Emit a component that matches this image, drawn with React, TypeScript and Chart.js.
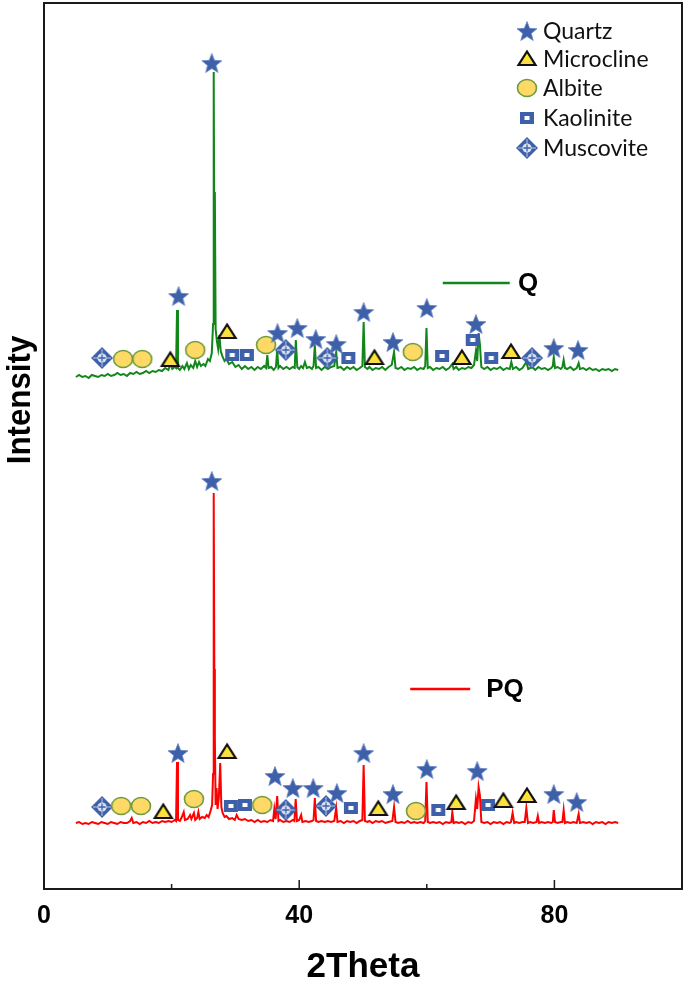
import React, { useEffect, useRef } from 'react';
import { Chart, registerables } from 'chart.js';

Chart.register(...registerables);

// ---------- data ----------
const xTickLabels = ['0', '40', '80'];
const xTitle = '2Theta';
const yTitle = 'Intensity';
const sampleNames = ['Q', 'PQ'];
const sampleColors = ['#12861A', '#FF0000'];
const mineralNames = ['Quartz', 'Microcline', 'Albite', 'Kaolinite', 'Muscovite'];

// diffraction pattern of Q (2theta, intensity, offset stacked)
const qPattern: [number, number][] = [
  [5,512],[5.5,514],[6,512],[6.5,513],[7,511],[7.5,514],[8,513],[8.5,512],[9,514],[9.5,513],[10,515],[10.5,513],[11,514],[11.5,516],[12,514],[12.5,515],[13,513],[13.5,516],[14,515],[14.5,517],[15,515],[15.5,516],[16,518],[16.5,516],[17,518],[17.5,517],[18,519],[18.5,518],[19,521],[19.5,519],[19.8,525],[20.1,520],[20.5,522],[20.7,521],[20.85,579],[21.0,521],[21.3,519],[21.7,523],[22.0,520],[22.4,526],[22.7,520],[23.0,524],[23.4,521],[23.7,528],[24.0,522],[24.3,527],[24.6,523],[25.0,525],[25.3,523],[25.7,530],[26.0,528],[26.3,536],[26.5,565],[26.6,817],[26.7,640],[26.78,697],[26.9,560],[27.1,548],[27.3,540],[27.5,554],[27.7,538],[28.0,532],[28.3,528],[28.6,530],[29.0,525],[29.5,527],[30.0,522],[30.5,524],[31.0,520],[31.5,523],[32.0,520],[32.5,522],[33.0,519],[33.5,522],[34.0,520],[34.5,523],[34.8,521],[35.0,534],[35.2,521],[35.6,522],[36.0,519],[36.35,522],[36.55,539],[36.75,521],[37.0,523],[37.5,520],[38.0,522],[38.5,520],[39.0,522],[39.3,521],[39.47,549],[39.7,522],[40.0,520],[40.3,523],[40.6,521],[40.9,527],[41.2,521],[41.6,522],[42.0,520],[42.25,523],[42.45,544],[42.65,521],[43.0,522],[43.5,519],[44.0,522],[44.5,520],[45.0,522],[45.5,523],[45.8,537],[46.0,521],[46.5,522],[47.0,519],[47.5,522],[48.0,520],[48.5,522],[49.0,519],[49.5,521],[49.9,523],[50.1,567],[50.3,522],[50.7,520],[51.0,522],[51.5,519],[52.0,521],[52.5,520],[53.0,522],[53.5,519],[54.0,522],[54.5,524],[54.87,537],[55.1,521],[55.5,520],[56.0,522],[56.5,519],[57.0,521],[57.5,520],[58.0,522],[58.5,519],[59.0,521],[59.5,520],[59.75,523],[59.95,561],[60.15,521],[60.5,522],[61.0,519],[61.5,521],[62.0,520],[62.5,522],[63.0,519],[63.5,521],[64.0,525],[64.2,520],[64.6,522],[65.0,519],[65.5,521],[66.0,520],[66.5,522],[67.0,521],[67.4,524],[67.7,538],[67.9,528],[68.12,556],[68.32,545],[68.55,522],[69.0,520],[69.5,522],[70.0,519],[70.5,521],[71.0,520],[71.5,522],[72.0,519],[72.5,521],[73.0,520],[73.25,527],[73.5,520],[74.0,522],[74.5,519],[75.0,521],[75.6,527],[75.9,520],[76.5,522],[77.0,519],[77.5,522],[78.0,520],[78.5,521],[79.0,519],[79.5,521],[79.75,523],[79.9,532],[80.1,521],[80.5,522],[81.0,520],[81.25,522],[81.45,529],[81.65,521],[82.0,520],[82.5,522],[83.0,519],[83.5,521],[83.8,526],[84.0,520],[84.5,521],[85.0,519],[85.5,521],[86.0,519],[86.5,520],[87.0,518],[87.5,520],[88.0,519],[88.5,520],[89.0,518],[89.5,520],[90.0,519],
];

// diffraction pattern of PQ
const pqPattern: [number, number][] = [
  [5,66],[5.5,67],[6,65],[6.5,66],[7,65],[7.5,67],[8,66],[8.5,65],[9,67],[9.5,66],[10,65],[10.5,67],[11,66],[11.5,65],[12,67],[12.5,66],[13,66],[13.5,68],[13.75,71],[14,66],[14.5,67],[15,65],[15.5,67],[16,66],[16.5,68],[17,66],[17.5,67],[18,66],[18.5,68],[19,67],[19.5,68],[20,67],[20.5,69],[20.7,68],[20.85,127],[21.0,69],[21.3,68],[21.6,72],[21.9,77],[22.1,69],[22.5,70],[22.9,74],[23.1,70],[23.5,76],[23.7,69],[24.0,71],[24.2,77],[24.4,70],[24.8,72],[25.2,71],[25.5,74],[25.8,72],[26.1,78],[26.35,84],[26.5,115],[26.6,396],[26.7,220],[26.78,150],[26.9,84],[27.05,101],[27.2,80],[27.4,91],[27.62,126],[27.8,82],[28.0,76],[28.3,72],[28.6,73],[29.0,70],[29.5,71],[29.9,69],[30.2,74],[30.5,70],[31.0,69],[31.5,70],[32.0,68],[32.5,69],[33.0,67],[33.5,69],[34.0,67],[34.5,68],[35.0,67],[35.5,69],[35.9,68],[36.1,80],[36.3,70],[36.55,93],[36.75,68],[37.0,69],[37.5,67],[38.0,68],[38.5,67],[39.0,69],[39.25,68],[39.45,90],[39.65,68],[40.0,69],[40.3,74],[40.5,67],[41.0,68],[41.5,67],[42.0,68],[42.25,69],[42.45,91],[42.65,68],[43.0,67],[43.5,68],[44.0,67],[44.5,68],[45.0,67],[45.5,68],[45.8,81],[46.0,67],[46.5,68],[47.0,66],[47.5,68],[48.0,67],[48.5,68],[49.0,66],[49.5,68],[49.9,69],[50.1,124],[50.3,68],[50.7,67],[51.0,68],[51.5,66],[52.0,68],[52.5,67],[53.0,68],[53.5,66],[54.0,67],[54.6,68],[54.87,82],[55.1,67],[55.5,66],[56.0,67],[56.5,66],[57.0,68],[57.5,66],[58.0,67],[58.5,66],[59.0,67],[59.5,66],[59.75,68],[59.95,107],[60.15,67],[60.5,66],[61.0,67],[61.5,66],[62.0,67],[62.5,65],[63.0,67],[63.5,66],[63.85,67],[64.0,77],[64.2,66],[64.6,67],[65.0,66],[65.5,67],[66.0,65],[66.5,67],[67.0,66],[67.4,68],[67.7,90],[67.9,80],[68.12,102],[68.32,94],[68.55,67],[69.0,66],[69.5,67],[70.0,65],[70.5,67],[71.0,66],[71.5,67],[72.0,65],[72.5,67],[73.0,66],[73.2,67],[73.45,76],[73.7,66],[74.0,67],[74.5,66],[75.0,67],[75.35,67],[75.6,81],[75.85,66],[76.2,67],[76.7,66],[77.2,67],[77.4,73],[77.6,66],[78.0,67],[78.5,66],[79.0,67],[79.5,66],[79.75,67],[79.9,79],[80.1,67],[80.5,66],[81.0,67],[81.25,67],[81.45,79],[81.65,66],[82.0,67],[82.5,66],[83.0,67],[83.5,66],[83.8,75],[84.0,66],[84.5,67],[85.0,66],[85.5,67],[86.0,65],[86.5,67],[87.0,66],[87.5,67],[88.0,65],[88.5,67],[89.0,66],[89.5,67],[90.0,66],
];

// phase markers (2theta, height) for Q
const quartzQ: [number, number][] = [[26.3,826],[21.1,593],[36.6,556],[39.7,561],[42.6,550],[45.8,545],[50.1,577],[54.7,547],[60.0,581],[67.7,565],[79.9,541],[83.7,539]];
const microclineQ: [number, number][] = [[19.8,529],[28.7,557],[51.8,531],[65.5,531],[73.2,537]];
const albiteQ: [number, number][] = [[12.4,530],[15.4,530],[23.7,539],[34.8,544],[57.8,537]];
const kaoliniteQ: [number, number][] = [[29.5,534],[31.8,534],[47.7,531],[62.4,533],[67.2,549],[70.1,531]];
const muscoviteQ: [number, number][] = [[9.1,531],[37.9,539],[44.4,531],[76.5,531]];

// phase markers for PQ
const quartzPQ: [number, number][] = [[26.3,408],[21.0,136],[36.2,113],[39.0,101],[42.2,101],[45.9,96],[50.1,136],[54.7,95],[60.0,120],[67.9,118],[79.9,95],[83.5,87]];
const microclinePQ: [number, number][] = [[18.7,77],[28.7,137],[52.4,80],[64.6,86],[72.0,88],[75.7,93]];
const albitePQ: [number, number][] = [[12.1,83],[15.2,83],[23.5,90],[34.2,84],[58.3,78]];
const kaolinitePQ: [number, number][] = [[29.3,83],[31.5,84],[48.1,81],[61.8,79],[69.6,84]];
const muscovitePQ: [number, number][] = [[9.1,82],[37.9,79],[44.2,83]];

// in-plot series labels: line start, line end, text x, height
const seriesLabelLines: [number, number, number, number][] = [[62.5, 73.0, 74.3, 606], [57.4, 66.8, 69.3, 200]];

// ---------- styling helpers ----------
const BLUE = '#3E60A8';
const FRAME = '#1a1a1a';
const BOLDFONT = "'Liberation Sans', Arial, sans-serif";
const LEGEND_FONT = "Lato, 'Open Sans', 'Noto Sans', sans-serif";

function makeMarker(kind: string): HTMLCanvasElement {
  const s = 26;
  const c = document.createElement('canvas');
  c.width = s; c.height = s;
  const g = c.getContext('2d')!;
  const cx = s / 2, cy = s / 2;
  if (kind === 'star') {
    g.beginPath();
    for (let i = 0; i < 10; i++) {
      const r = i % 2 === 0 ? 10.5 : 4.5;
      const a = -Math.PI / 2 + (i * Math.PI) / 5;
      g.lineTo(cx + r * Math.cos(a), cy + 1 + r * Math.sin(a));
    }
    g.closePath();
    g.fillStyle = BLUE; g.fill();
    g.strokeStyle = '#6A88C8'; g.lineWidth = 0.8; g.stroke();
  } else if (kind === 'triangle') {
    g.beginPath();
    g.moveTo(cx, cy - 7.5);
    g.lineTo(cx + 8.5, cy + 6);
    g.lineTo(cx - 8.5, cy + 6);
    g.closePath();
    const gr = g.createLinearGradient(0, cy - 7, 0, cy + 6);
    gr.addColorStop(0, '#FFF200'); gr.addColorStop(1, '#F8D860');
    g.fillStyle = gr; g.fill();
    g.lineJoin = 'miter';
    g.strokeStyle = '#111'; g.lineWidth = 2.2; g.stroke();
  } else if (kind === 'circle') {
    g.beginPath();
    g.ellipse(cx, cy, 9.5, 8.5, 0, 0, Math.PI * 2);
    g.fillStyle = '#FFD966'; g.fill();
    g.strokeStyle = '#6E9B3C'; g.lineWidth = 1.6; g.stroke();
  } else if (kind === 'square') {
    g.fillStyle = BLUE;
    g.fillRect(cx - 7, cy - 6, 14, 12);
    g.fillStyle = '#fff';
    g.fillRect(cx - 2.5, cy - 2, 5, 4);
  } else if (kind === 'muscovite') {
    const r = 11;
    g.beginPath();
    g.moveTo(cx, cy - r); g.lineTo(cx + r, cy); g.lineTo(cx, cy + r); g.lineTo(cx - r, cy);
    g.closePath();
    g.fillStyle = BLUE; g.fill();
    g.strokeStyle = '#b9c8e8'; g.lineWidth = 1;
    g.beginPath();
    g.moveTo(cx, cy - r + 2); g.lineTo(cx, cy + r - 2);
    g.moveTo(cx - r + 2, cy); g.lineTo(cx + r - 2, cy);
    g.stroke();
    g.beginPath(); g.arc(cx, cy, 4.6, 0, Math.PI * 2);
    g.fillStyle = '#dbe3f4'; g.fill();
    g.strokeStyle = BLUE; g.lineWidth = 1.3;
    g.beginPath();
    g.moveTo(cx, cy - 3.6); g.lineTo(cx, cy + 3.6);
    g.moveTo(cx - 3.6, cy); g.lineTo(cx + 3.6, cy);
    g.stroke();
  }
  return c;
}

const toXY = (arr: [number, number][]) => arr.map(([x, y]) => ({ x, y }));

export default function App() {
  const ref = useRef<HTMLCanvasElement | null>(null);

  useEffect(() => {
    if (!ref.current) return;
    const kinds = ['star', 'triangle', 'circle', 'square', 'muscovite'];
    const markers = kinds.map(makeMarker);
    const mineralData = [
      [...quartzQ, ...quartzPQ],
      [...microclineQ, ...microclinePQ],
      [...albiteQ, ...albitePQ],
      [...kaoliniteQ, ...kaolinitePQ],
      [...muscoviteQ, ...muscovitePQ],
    ];

    const markerSets = mineralNames.map((name, i) => ({
      type: 'scatter' as const,
      label: name,
      data: toXY(mineralData[i]),
      pointStyle: markers[i],
      pointRadius: 10,
      showLine: false,
      order: 0,
    }));

    const traceSets = [qPattern, pqPattern].map((p, i) => ({
      type: 'scatter' as const,
      label: sampleNames[i],
      data: toXY(p),
      showLine: true,
      borderColor: sampleColors[i],
      borderWidth: 2,
      pointRadius: 0,
      tension: 0,
      order: 5,
    }));

    const decor = {
      id: 'decor',
      afterDraw(chart: any) {
        const { ctx, chartArea: a, scales } = chart;
        const xs = scales.x, ys = scales.y;
        ctx.save();
        // frame top/right
        ctx.strokeStyle = FRAME;
        ctx.lineWidth = 2;
        ctx.beginPath();
        ctx.moveTo(a.left, a.top); ctx.lineTo(a.right, a.top); ctx.lineTo(a.right, a.bottom);
        ctx.stroke();
        // inner ticks
        ctx.lineWidth = 1.5;
        xs.ticks.forEach((t: any) => {
          const px = xs.getPixelForValue(t.value);
          const len = t.value % 40 === 0 ? 9 : 5;
          ctx.beginPath();
          ctx.moveTo(px, a.bottom); ctx.lineTo(px, a.bottom - len);
          ctx.stroke();
        });
        // y title
        ctx.fillStyle = '#000';
        ctx.font = `bold 34px ${BOLDFONT}`;
        ctx.textAlign = 'center';
        ctx.textBaseline = 'middle';
        ctx.translate(21, 400);
        ctx.rotate(-Math.PI / 2);
        ctx.scale(0.92, 1);
        ctx.fillText(yTitle, 0, 0);
        ctx.restore();

        // series labels
        ctx.save();
        seriesLabelLines.forEach(([x0, x1, xt, h], i) => {
          const py = ys.getPixelForValue(h);
          ctx.strokeStyle = sampleColors[i];
          ctx.lineWidth = 2.5;
          ctx.beginPath();
          ctx.moveTo(xs.getPixelForValue(x0), py);
          ctx.lineTo(xs.getPixelForValue(x1), py);
          ctx.stroke();
          ctx.fillStyle = '#000';
          ctx.font = `bold 26px ${BOLDFONT}`;
          ctx.textAlign = 'left';
          ctx.textBaseline = 'middle';
          ctx.fillText(sampleNames[i], xs.getPixelForValue(xt), py + 1);
        });
        // legend
        const lx = 527, tx = 543;
        const rows = [31, 59, 88, 118, 148];
        ctx.font = `23px ${LEGEND_FONT}`;
        ctx.fillStyle = '#111';
        ctx.textAlign = 'left';
        ctx.textBaseline = 'middle';
        mineralNames.forEach((name, i) => {
          const m = markers[i];
          ctx.drawImage(m, lx - m.width / 2, rows[i] - m.height / 2);
          ctx.fillText(name, tx, rows[i] + 1);
        });
        ctx.restore();
      },
    };

    const zeroPad = (s: any) => {
      s.paddingLeft = 0; s.paddingRight = 0; s.paddingTop = 0; s.paddingBottom = 0;
    };

    const chart = new Chart(ref.current, {
      type: 'scatter',
      data: { datasets: [...markerSets, ...traceSets] as any },
      options: {
        animation: false,
        responsive: false,
        maintainAspectRatio: false,
        layout: { autoPadding: false, padding: { top: 3, right: 3, left: 0, bottom: 0 } },
        plugins: { legend: { display: false }, tooltip: { enabled: false } },
        scales: {
          x: {
            type: 'linear',
            min: 0,
            max: 100,
            grid: { display: false, drawTicks: false },
            border: { display: true, color: FRAME, width: 2 },
            ticks: {
              stepSize: 20,
              autoSkip: false,
              maxRotation: 0,
              padding: 12,
              color: '#000',
              font: { family: BOLDFONT, size: 25, weight: 'bold' },
              callback: (v: any) => (xTickLabels.includes(String(v)) ? String(v) : ''),
            },
            title: {
              display: true,
              text: xTitle,
              color: '#000',
              font: { family: BOLDFONT, size: 35, weight: 'bold' },
              padding: { top: 0, bottom: 0 },
            },
            afterFit: (s: any) => { s.height = 99; zeroPad(s); },
          },
          y: {
            type: 'linear',
            min: 0,
            max: 886,
            grid: { display: false, drawTicks: false },
            border: { display: true, color: FRAME, width: 2 },
            ticks: { display: false },
            afterFit: (s: any) => { s.width = 44; zeroPad(s); },
          },
        },
      } as any,
      plugins: [decor],
    });
    return () => chart.destroy();
  }, []);

  return (
    <div style={{ position: 'fixed', left: 0, top: 0, width: 685, height: 988, background: '#fff' }}>
      <canvas ref={ref} width={685} height={988} style={{ display: 'block', width: 685, height: 988 }} />
    </div>
  );
}
